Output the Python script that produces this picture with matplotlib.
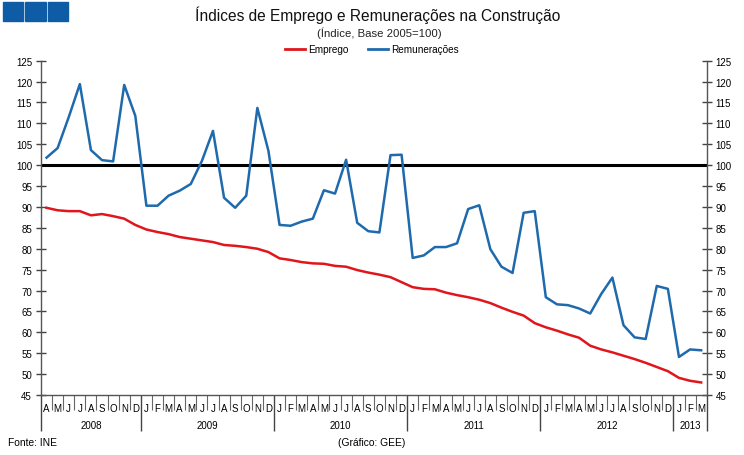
import matplotlib.pyplot as plt
from matplotlib.patches import Rectangle
from matplotlib.lines import Line2D

plt.rcParams['font.family'] = ['Liberation Sans', 'DejaVu Sans']

# meses de Abril 2008 a Marco 2013
months = (['A', 'M', 'J', 'J', 'A', 'S', 'O', 'N', 'D']
          + ['J', 'F', 'M', 'A', 'M', 'J', 'J', 'A', 'S', 'O', 'N', 'D'] * 4
          + ['J', 'F', 'M'])
years = ['2008', '2009', '2010', '2011', '2012', '2013']
year_len = [9, 12, 12, 12, 12, 3]

emprego = [89.8, 89.2, 89.0, 89.0, 88.0, 88.3, 87.8, 87.2, 85.7,
           84.6, 84.0, 83.5, 82.8, 82.4, 82.0, 81.6, 80.9, 80.7, 80.4, 80.0, 79.2,
           77.7, 77.3, 76.8, 76.5, 76.4, 75.9, 75.7, 74.9, 74.3, 73.8, 73.2, 72.0,
           70.8, 70.4, 70.3, 69.5, 68.9, 68.4, 67.8, 67.0, 65.9, 64.9, 64.0, 62.2,
           61.2, 60.4, 59.5, 58.7, 56.8, 55.9, 55.2, 54.4, 53.6, 52.7, 51.7, 50.7,
           49.1, 48.4, 48.0]
remuneracoes = [101.8, 104.1, 111.5, 119.4, 103.6, 101.2, 100.9, 119.2, 111.8,
                90.3, 90.3, 92.7, 93.9, 95.5, 101.0, 108.2, 92.2, 89.8, 92.7, 113.7, 103.4,
                85.7, 85.5, 86.5, 87.2, 94.0, 93.2, 101.3, 86.2, 84.2, 83.9, 102.4, 102.5,
                77.8, 78.4, 80.4, 80.4, 81.3, 89.5, 90.4, 79.9, 75.7, 74.2, 88.6, 89.0,
                68.4, 66.7, 66.5, 65.7, 64.5, 69.2, 73.1, 61.7, 58.8, 58.4, 71.1, 70.4,
                54.1, 55.9, 55.7]

x = list(range(len(months)))

fig = plt.figure(figsize=(7.44, 4.56), dpi=100)
ax = fig.add_axes([41 / 744, 1 - 396 / 456, (706.7 - 41) / 744, (396 - 61.7) / 456])

ax.plot(x, emprego, color='#e0161c', lw=1.8, label='Emprego', zorder=3)
ax.plot(x, remuneracoes, color='#1f6aad', lw=1.8, label='Remunerações', zorder=3)
ax.axhline(100, color='black', lw=2.2, zorder=2)

ax.set_xlim(-0.5, len(months) - 0.5)
ax.set_ylim(45, 125)
ax.set_yticks(range(45, 126, 5))
ax.tick_params(axis='y', which='both', direction='inout', length=7, width=1,
               color='#444444', labelsize=7, left=True, right=True,
               labelleft=True, labelright=True, pad=3)

ax.spines['top'].set_visible(False)
for side in ['left', 'right', 'bottom']:
    ax.spines[side].set_color('#555555')
    ax.spines[side].set_linewidth(1)

# separadores de meses (curtos) e de anos (longos)
bounds = [-0.5]
for n in year_len:
    bounds.append(bounds[-1] + n)
ax.set_xticks(bounds)
ax.set_xticks([i - 0.5 for i in range(1, len(months))], minor=True)
ax.tick_params(axis='x', which='major', direction='out', length=26, width=1,
               color='#444444', labelbottom=False)
ax.tick_params(axis='x', which='minor', direction='out', length=11, width=0.8,
               color='#666666', labelbottom=False)

trans = ax.get_xaxis_transform()
for i, m in enumerate(months):
    ax.text(i, -13 / 334.3, m, transform=trans, ha='center', va='center', fontsize=7)
for k, yr in enumerate(years):
    ax.text((bounds[k] + bounds[k + 1]) / 2, -30 / 334.3, yr, transform=trans,
            ha='center', va='center', fontsize=7)

fig.text(378 / 744, 1 - 15 / 456, 'Índices de Emprego e Remunerações na Construção',
         ha='center', va='center', fontsize=11.2, color='#111111')
fig.text(379 / 744, 1 - 33 / 456, '(Índice, Base 2005=100)', ha='center', va='center',
         fontsize=8.2, color='#222222')
fig.text(8 / 744, 1 - 443 / 456, 'Fonte: INE', ha='left', va='center', fontsize=7.4)
fig.text(372 / 744, 1 - 443 / 456, '(Gráfico: GEE)', ha='center', va='center', fontsize=7.4)

fig.legend(handles=[Line2D([], [], color='#e0161c', lw=2), Line2D([], [], color='#1f6aad', lw=2)],
           labels=['Emprego', 'Remunerações'], loc='center', bbox_to_anchor=(372 / 744, 1 - 50 / 456),
           ncol=2, frameon=False, fontsize=7.2, handlelength=2.0, handletextpad=0.3,
           columnspacing=2.0)

for x0 in [3, 25.5, 48]:
    fig.patches.append(Rectangle((x0 / 744, 1 - 22 / 456), 20 / 744, 19 / 456,
                                 transform=fig.transFigure, color='#0f5ca6'))

fig.savefig('out.png', dpi=100)
